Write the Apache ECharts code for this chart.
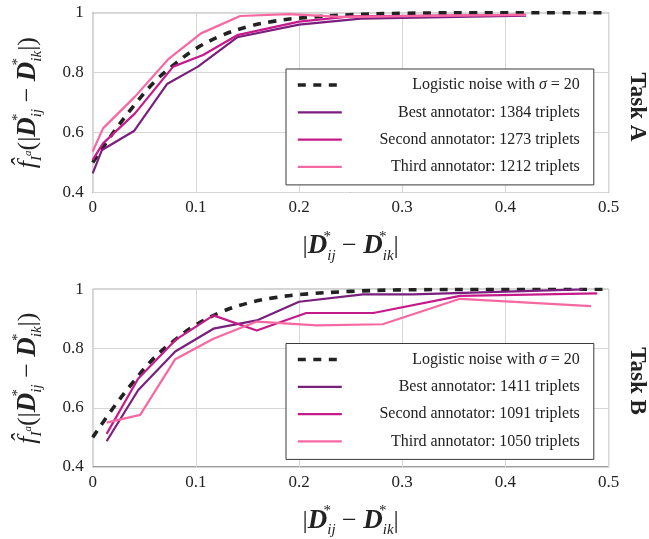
<!DOCTYPE html>
<html>
<head>
<meta charset="utf-8">
<script src="https://cdn.jsdelivr.net/npm/echarts@6/dist/echarts.min.js"></script>
<style>
html, body { margin: 0; padding: 0; background: #fff; }
#chart { width: 649px; height: 539px; }
</style>
</head>
<body>
<div id="chart"></div>
<script>
// axis ranges
const xRange = [0, 0.5]
const yRange = [0.4, 1]

// logistic reference curve (same in both panels)
const logitX = [0, 0.02, 0.04, 0.06, 0.08, 0.1, 0.125, 0.15, 0.175, 0.2, 0.25, 0.3, 0.4, 0.5]
const logitY = [0.5, 0.6, 0.69, 0.77, 0.83, 0.88, 0.924, 0.953, 0.971, 0.982, 0.993, 0.998, 1.0, 1.0]

// Task A
const namesA = ['Logistic noise with σ = 20', 'Best annotator: 1384 triplets', 'Second annotator: 1273 triplets', 'Third annotator: 1212 triplets']
const aBestX = [0, 0.009, 0.04, 0.072, 0.102, 0.14, 0.2, 0.26, 0.42]
const aBestY = [0.464, 0.542, 0.605, 0.762, 0.82, 0.918, 0.96, 0.98, 0.99]
const aSecondX = [0, 0.01, 0.041, 0.078, 0.107, 0.14, 0.2, 0.25, 0.42]
const aSecondY = [0.509, 0.564, 0.664, 0.82, 0.859, 0.925, 0.97, 0.988, 0.993]
const aThirdX = [0, 0.01, 0.041, 0.073, 0.105, 0.143, 0.19, 0.24, 0.42]
const aThirdY = [0.537, 0.614, 0.72, 0.844, 0.931, 0.989, 0.995, 0.986, 0.993]

// Task B
const namesB = ['Logistic noise with σ = 20', 'Best annotator: 1411 triplets', 'Second annotator: 1091 triplets', 'Third annotator: 1050 triplets']
const bBestX = [0.0135, 0.044, 0.08, 0.117, 0.159, 0.2, 0.262, 0.31, 0.475]
const bBestY = [0.487, 0.659, 0.79, 0.867, 0.895, 0.958, 0.983, 0.983, 1.0]
const bSecondX = [0.0135, 0.044, 0.081, 0.117, 0.159, 0.207, 0.272, 0.356, 0.489]
const bSecondY = [0.512, 0.698, 0.831, 0.912, 0.861, 0.92, 0.92, 0.978, 0.986]
const bThirdX = [0.0135, 0.046, 0.08, 0.117, 0.159, 0.217, 0.281, 0.356, 0.483]
const bThirdY = [0.55, 0.576, 0.764, 0.833, 0.891, 0.878, 0.882, 0.968, 0.943]

const colors = ['#222222', '#7a1f7e', '#c51b8a', '#f768a1']
const serif = "'Liberation Serif', 'DejaVu Serif', serif"
const zip = (xs, ys) => xs.map((x, i) => [x, ys[i]])

const mathRich = {
  n: { fontFamily: serif, fontSize: 26, color: '#222', lineHeight: 34 },
  f: { fontFamily: serif, fontSize: 26, fontStyle: 'italic', color: '#222', lineHeight: 34 },
  D: { fontFamily: serif, fontSize: 27, fontStyle: 'italic', fontWeight: 'bold', color: '#222', lineHeight: 34 },
  st: { fontFamily: serif, fontSize: 15, color: '#222', lineHeight: 14, verticalAlign: 'top', width: 0 },
  sub: { fontFamily: serif, fontSize: 15, fontStyle: 'italic', color: '#222', lineHeight: 14, verticalAlign: 'bottom' },
  sa: { fontFamily: serif, fontSize: 11, fontStyle: 'italic', color: '#222', lineHeight: 12, verticalAlign: 'middle' }
}
const diffText = '{n||}{D|D}{st|*}{sub|ij}{n| − }{D|D}{st|*}{sub|ik}{n||}'
const yTitle = '{f|f\u0302}{sub|I}{sa|a}{n|(|}{D|D}{st|*}{sub|ij}{n| − }{D|D}{st|*}{sub|ik}{n||)}'

const tickFmt = v => (Math.abs(v - 1) < 1e-9 ? '1' : Math.abs(v) < 1e-9 ? '0' : v.toFixed(1))

function grid(top) {
  return { left: 92.7, right: 40.4, top: top, height: 179.8, show: true, borderColor: '#3a3a3a', borderWidth: 1, backgroundColor: 'transparent' }
}
function xAxis(idx) {
  return {
    type: 'value', gridIndex: idx, min: xRange[0], max: xRange[1], interval: 0.1,
    axisLine: { show: false }, axisTick: { show: false },
    axisLabel: { color: '#222', fontFamily: serif, fontSize: 17, margin: 7, formatter: tickFmt },
    splitLine: { lineStyle: { color: '#d6d6d6', width: 1 } },
    name: diffText, nameLocation: 'middle', nameGap: 37,
    nameTextStyle: { rich: mathRich }
  }
}
function yAxis(idx) {
  return {
    type: 'value', gridIndex: idx, min: yRange[0], max: yRange[1], interval: 0.2,
    axisLine: { show: false }, axisTick: { show: false },
    axisLabel: { color: '#222', fontFamily: serif, fontSize: 17, margin: 9, formatter: tickFmt },
    splitLine: { lineStyle: { color: '#d6d6d6', width: 1 } },
    name: yTitle, nameLocation: 'middle', nameRotate: 90, nameGap: 48,
    nameTextStyle: { rich: mathRich }
  }
}
function legend(names, top) {
  return {
    data: names, orient: 'vertical', left: 286, top: top,
    padding: [7, 14, 9, 10], itemWidth: 44, itemHeight: 14, itemGap: 9.3,
    backgroundColor: '#fff', borderColor: '#3a3a3a', borderWidth: 1, borderRadius: 0,
    selectedMode: false,
    itemStyle: { color: 'rgba(0,0,0,0)', borderWidth: 0, opacity: 0 },
    lineStyle: { width: 'inherit', type: 'inherit' },
    formatter: name => name.includes('σ')
      ? '{t|Logistic noise with }{s|σ}{t| = 20}'
      : '{t|' + name + '}',
    textStyle: {
      width: 233, lineHeight: 18, color: '#222', fontFamily: serif, fontSize: 16,
      rich: {
        t: { align: 'right', fontFamily: serif, fontSize: 16, color: '#222', lineHeight: 18 },
        s: { align: 'right', fontFamily: serif, fontSize: 16, fontStyle: 'italic', color: '#222', lineHeight: 18 }
      }
    }
  }
}
function panel(idx, names, sets) {
  return sets.map((s, i) => ({
    name: names[i], type: 'line', xAxisIndex: idx, yAxisIndex: idx,
    data: zip(s[0], s[1]), symbol: 'none', smooth: i === 0 ? 0.4 : false,
    lineStyle: i === 0
      ? { color: colors[0], width: 3.6, type: [8, 7.5] }
      : { color: colors[i], width: 2.2 },
    itemStyle: { color: colors[i] },
    z: 2 + i
  }))
}

const chart = echarts.init(document.getElementById('chart'), null, { renderer: 'canvas' })
chart.setOption({
  animation: false,
  backgroundColor: '#fff',
  grid: [grid(12.7), grid(289.3)],
  xAxis: [xAxis(0), xAxis(1)],
  yAxis: [yAxis(0), yAxis(1)],
  legend: [legend(namesA, 69), legend(namesB, 343.5)],
  series: [
    ...panel(0, namesA, [[logitX, logitY], [aBestX, aBestY], [aSecondX, aSecondY], [aThirdX, aThirdY]]),
    ...panel(1, namesB, [[logitX, logitY], [bBestX, bBestY], [bSecondX, bSecondY], [bThirdX, bThirdY]])
  ],
  graphic: [
    { type: 'text', x: 637, y: 107, rotation: -Math.PI / 2,
      style: { text: 'Task A', font: 'bold 23px ' + serif, fill: '#222', align: 'center', verticalAlign: 'middle' } },
    { type: 'text', x: 637, y: 381, rotation: -Math.PI / 2,
      style: { text: 'Task B', font: 'bold 23px ' + serif, fill: '#222', align: 'center', verticalAlign: 'middle' } }
  ]
})
</script>
</body>
</html>
